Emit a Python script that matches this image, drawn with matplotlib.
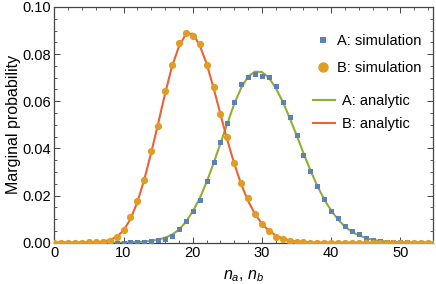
import numpy as np
import matplotlib
matplotlib.use("Agg")
import matplotlib.pyplot as plt
from matplotlib.ticker import MultipleLocator
from matplotlib.lines import Line2D

plt.rcParams['font.family'] = ['Liberation Sans', 'DejaVu Sans']
plt.rcParams['mathtext.fontset'] = 'custom'
plt.rcParams['mathtext.it'] = 'Liberation Sans:italic'
plt.rcParams['mathtext.rm'] = 'Liberation Sans'

# ========================
# DATA
# ========================
n = list(range(0, 56))

sim_a = [0, 0, 0, 0, 0, 0, 0, 0, 0, 0,
         0, 0.0001, 0.0002, 0.0003, 0.0006, 0.0010, 0.0017, 0.0030, 0.0058, 0.0092,
         0.0136, 0.0183, 0.0261, 0.0342, 0.0426, 0.0509, 0.0599, 0.0674, 0.0704, 0.0715,
         0.0706, 0.0702, 0.0664, 0.0599, 0.0532, 0.0457, 0.0371, 0.0303, 0.0241, 0.0184,
         0.0136, 0.0105, 0.0072, 0.0050, 0.0035, 0.0021, 0.0013, 0.0009, 0.0005, 0.0003,
         0.0002, 0.0001, 0, 0, 0, 0]

sim_b = [0, 0, 0, 0, 0, 0.0001, 0.0002, 0.0004, 0.0008, 0.0024,
         0.0055, 0.0108, 0.0176, 0.0267, 0.0389, 0.0495, 0.0644, 0.0754, 0.0848, 0.0888,
         0.0875, 0.0843, 0.0756, 0.0661, 0.0545, 0.0448, 0.0338, 0.0252, 0.0189, 0.0122,
         0.0080, 0.0048, 0.0026, 0.0016, 0.0008, 0.0004, 0.0002, 0, 0, 0,
         0, 0, 0, 0, 0, 0, 0, 0, 0, 0,
         0, 0, 0, 0, 0, 0]

ana_a = [0, 0, 0, 0, 0, 0, 0, 0, 0, 0,
         0.0001, 0.0002, 0.0003, 0.0005, 0.0008, 0.0013, 0.0021, 0.0034, 0.0055, 0.0088,
         0.0133, 0.0187, 0.0257, 0.0336, 0.0421, 0.0506, 0.0589, 0.0657, 0.0705, 0.0726,
         0.0724, 0.0700, 0.0656, 0.0598, 0.0530, 0.0456, 0.0380, 0.0307, 0.0241, 0.0183,
         0.0136, 0.0098, 0.0068, 0.0046, 0.0031, 0.0020, 0.0012, 0.0008, 0.0005, 0.0003,
         0.0002, 0.0001, 0, 0, 0, 0]

ana_b = [0, 0, 0, 0, 0, 0.0001, 0.0002, 0.0005, 0.0011, 0.0025,
         0.0052, 0.0100, 0.0172, 0.0268, 0.0382, 0.0505, 0.0632, 0.0747, 0.0832, 0.0885,
         0.0887, 0.0838, 0.0760, 0.0658, 0.0545, 0.0435, 0.0335, 0.0248, 0.0177, 0.0122,
         0.0080, 0.0051, 0.0031, 0.0018, 0.0010, 0.0005, 0.0003, 0.0001, 0, 0,
         0, 0, 0, 0, 0, 0, 0, 0, 0, 0,
         0, 0, 0, 0, 0, 0]

C_BLUE = '#5E81B5'
C_ORANGE = '#E19C24'
C_GREEN = '#8FB032'
C_RED = '#EB6235'
FRAME = '#444444'
FS = 10.5

# ========================
# PLOT
# ========================
fig = plt.figure(figsize=(4.36, 2.84), dpi=100)
ax = fig.add_axes([0.1245, 0.1454, 0.8685, 0.83])

ax.plot(n, ana_a, color=C_GREEN, lw=1.5, zorder=2)
ax.plot(n, ana_b, color=C_RED, lw=1.5, zorder=2)
ax.plot(n, sim_a, 's', color=C_BLUE, ms=3.6, mew=0, zorder=3)
ax.plot(n, sim_b, 'o', color=C_ORANGE, ms=5.2, mew=0, zorder=4)

ax.set_xlim(0, 54.7)
ax.set_ylim(0, 0.1)
ax.xaxis.set_major_locator(MultipleLocator(10))
ax.xaxis.set_minor_locator(MultipleLocator(2))
ax.yaxis.set_major_locator(MultipleLocator(0.02))
ax.yaxis.set_minor_locator(MultipleLocator(0.005))
ax.yaxis.set_major_formatter(plt.FuncFormatter(lambda v, p: f"{v:.2f}"))

ax.tick_params(which='both', direction='in', top=True, right=True,
               labeltop=False, labelright=False, color=FRAME,
               labelsize=FS, labelcolor='black', pad=2.5)
ax.tick_params(which='major', length=4.5, width=0.7)
ax.tick_params(which='minor', length=2.5, width=0.6)
for sp in ax.spines.values():
    sp.set_color(FRAME)
    sp.set_linewidth(0.9)

ax.set_xlabel("$n_a$, $n_b$", fontsize=11.5, labelpad=5.5)
ax.set_ylabel("Marginal probability", fontsize=11.5, labelpad=1)

# legends
h1 = [Line2D([], [], ls='none', marker='s', color=C_BLUE, ms=5, mew=0),
      Line2D([], [], ls='none', marker='o', color=C_ORANGE, ms=7.5, mew=0)]
leg1 = ax.legend(h1, ['A: simulation', 'B: simulation'], loc='upper left',
                 bbox_to_anchor=(315.4 / 436, 1 - 34.4 / 284), bbox_transform=fig.transFigure,
                 frameon=False, fontsize=FS, handlelength=1.0, handletextpad=0.46,
                 labelspacing=0.86, borderpad=0, borderaxespad=0)
ax.add_artist(leg1)

h2 = [Line2D([], [], color=C_GREEN, lw=1.5),
      Line2D([], [], color=C_RED, lw=1.5)]
ax.legend(h2, ['A: analytic', 'B: analytic'], loc='upper left',
          bbox_to_anchor=(313 / 436, 1 - 93.7 / 284), bbox_transform=fig.transFigure,
          frameon=False, fontsize=FS, handlelength=1.5, handletextpad=0.46,
          labelspacing=0.65, borderpad=0, borderaxespad=0)

plt.savefig("out.png", dpi=100)
